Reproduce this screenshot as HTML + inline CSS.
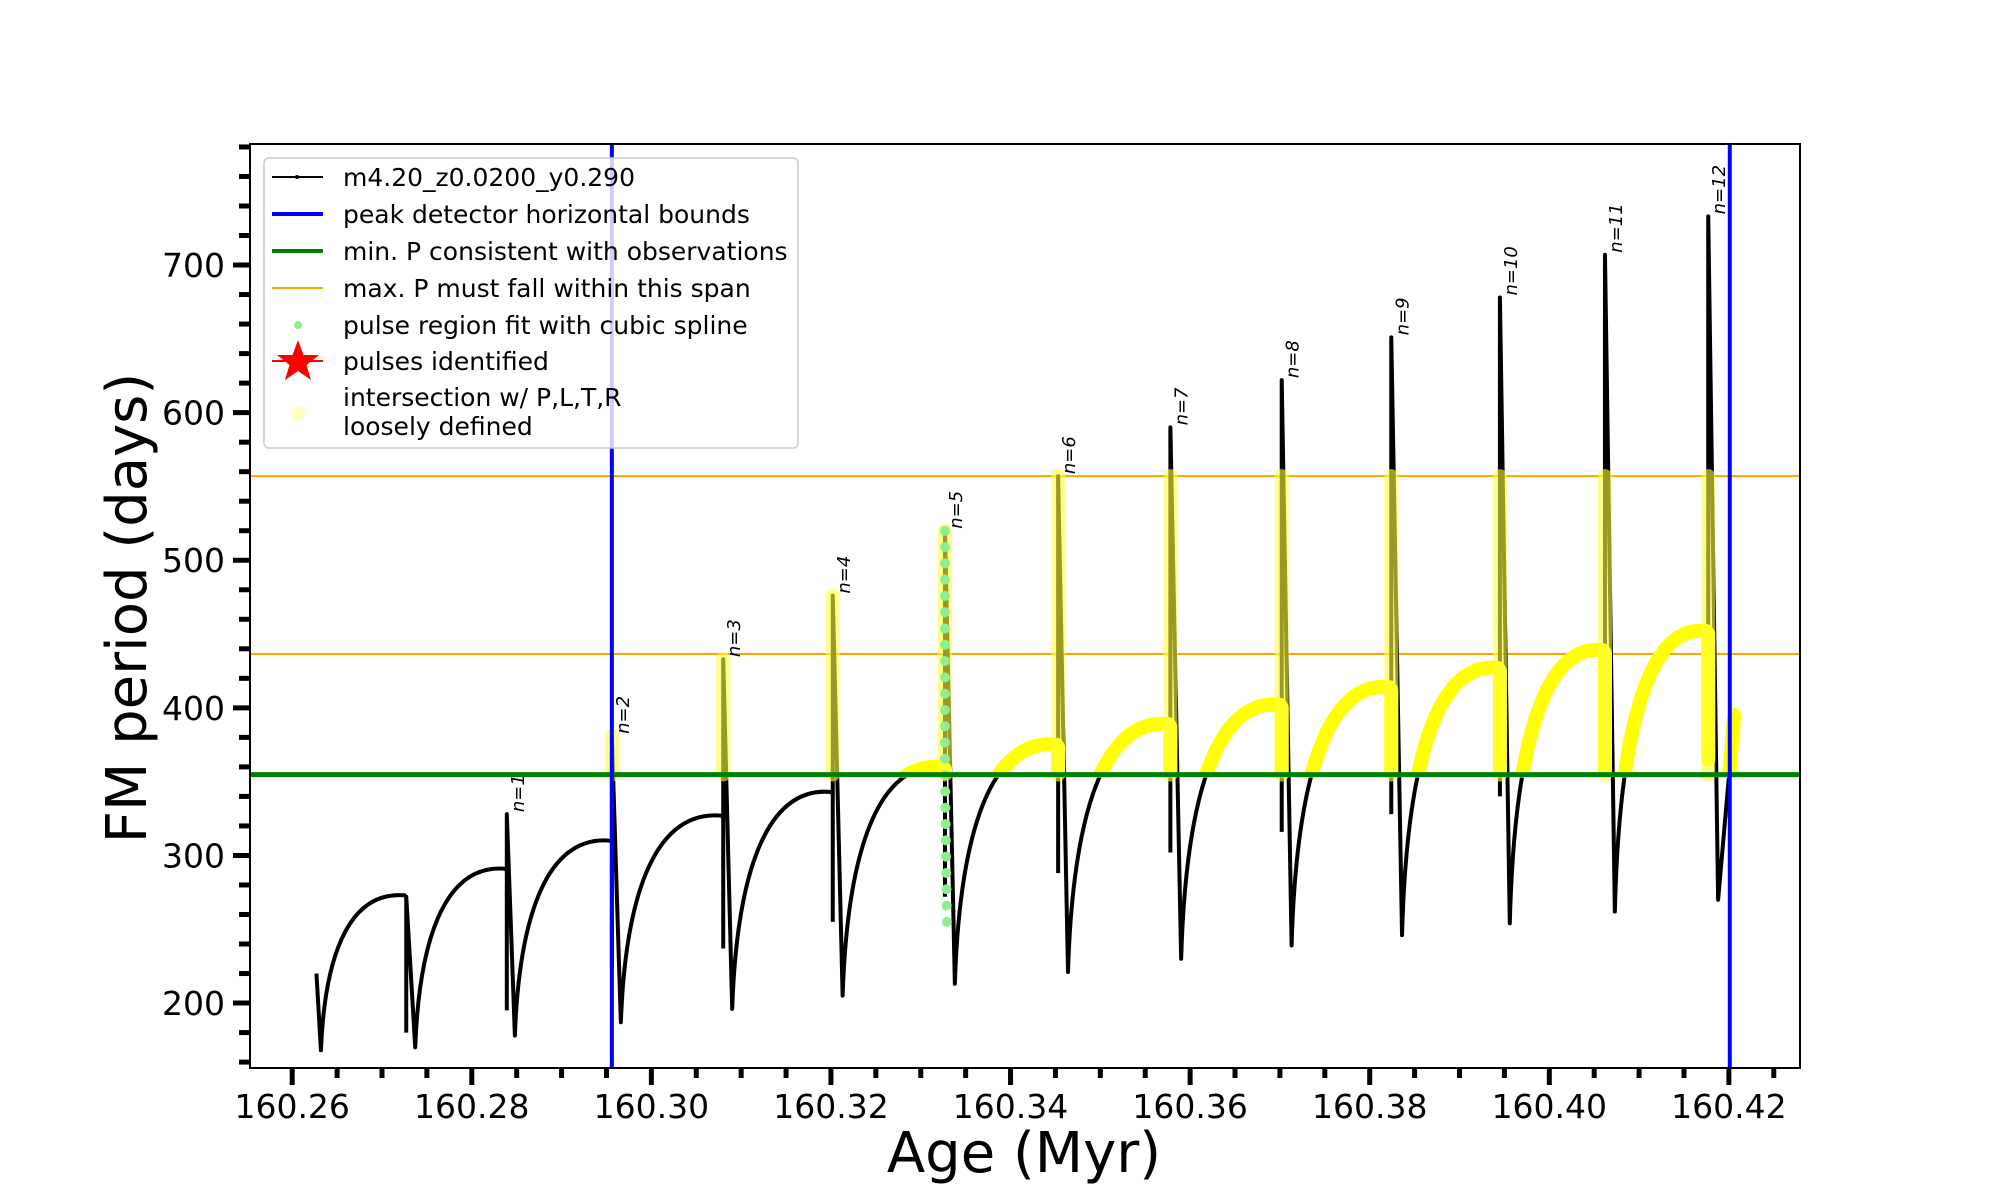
<!DOCTYPE html>
<html><head><meta charset="utf-8">
<style>
html,body{margin:0;padding:0;background:#fff;}
svg{display:block;font-family:"DejaVu Sans","Liberation Sans",sans-serif;}
</style></head>
<body>
<svg id="chart" width="2000" height="1200" viewBox="0 0 2000 1200" xmlns="http://www.w3.org/2000/svg">
<defs>
  <clipPath id="plotClip"><rect x="250" y="144" width="1550" height="924"/></clipPath>
  <clipPath id="yellowClip"><rect id="yellowClipRect" x="0" y="0" width="0" height="0"/></clipPath>
</defs>
<rect x="0" y="0" width="2000" height="1200" fill="#fff"/>
<g id="plot" clip-path="url(#plotClip)"></g>
<rect x="250" y="144" width="1550" height="924" fill="none" stroke="#000" stroke-width="2"/>
<g id="axes"></g>
<text x="1024" y="1172" font-size="56" text-anchor="middle">Age (Myr)</text>
<text x="0" y="0" font-size="56" text-anchor="middle" transform="translate(146,608) rotate(-90)">FM period (days)</text>

<g>
  <rect x="264" y="158" width="534" height="290" rx="5" fill="#fff" fill-opacity="0.8" stroke="#ccc" stroke-width="1.5"/>
  <g>
    <line x1="272" y1="177" x2="323" y2="177" stroke="#000" stroke-width="2"/><circle cx="297" cy="177" r="2" fill="#000"/>
    <text x="343" y="186" font-size="25">m4.20_z0.0200_y0.290</text></g>
  <g>
    <line x1="272" y1="214" x2="323" y2="214" stroke="#0000ff" stroke-width="4"/>
    <text x="343" y="223" font-size="25">peak detector horizontal bounds</text></g>
  <g>
    <line x1="272" y1="251" x2="323" y2="251" stroke="#008000" stroke-width="4"/>
    <text x="343" y="260" font-size="25">min. P consistent with observations</text></g>
  <g>
    <line x1="272" y1="288" x2="323" y2="288" stroke="#ffa500" stroke-width="2"/>
    <text x="343" y="297" font-size="25">max. P must fall within this span</text></g>
  <g>
    <circle cx="298" cy="325" r="4" fill="#90ee90"/>
    <text x="343" y="334" font-size="25">pulse region fit with cubic spline</text></g>
  <g>
    <line x1="272" y1="361" x2="323" y2="361" stroke="#ff0000" stroke-width="2"/>
    <polygon points="298,340 303.5,355 319,355 306.5,365 311,380 298,371 285,380 289.5,365 277,355 292.5,355" fill="#ff0000"/>
    <text x="343" y="370" font-size="25">pulses identified</text></g>
  <g>
    <circle cx="298" cy="413" r="7" fill="#ffffc0"/>
    <text x="343" y="406" font-size="25">intersection w/ P,L,T,R</text>
    <text x="343" y="435" font-size="25">loosely defined</text></g>
</g>
</svg>

<script>
// ---- data ----
const startAge = [160.2627, 160.2632];
const startVal = [220, 168];
const pulseAge = [160.2727,160.2839,160.2956,160.3080,160.3202,160.3327,160.3453,160.3578,160.3702,160.3824,160.3945,160.4062,160.4177];
const plateauVal = [273,291,310,327,343,360,375,389,402,414,427,439,452];
const lowVal = [180,195,224,237,255,272,288,302,316,328,340,355,365];
const peakVal = [272,328,381,433,476,520,557,590,622,651,678,707,733];
const minAge = [160.2737,160.2848,160.2966,160.3090,160.3213,160.3338,160.3464,160.3590,160.3713,160.3836,160.3956,160.4073,160.4188];
const minVal = [170,178,187,196,205,213,221,230,239,246,254,262,270];
const endAge = [160.4206];
const endVal = [395];
const pulseLabels = ["","n=1","n=2","n=3","n=4","n=5","n=6","n=7","n=8","n=9","n=10","n=11","n=12"];
const boundsAge = [160.2956, 160.4201];
const minPVal = [354.8];
const maxPVal = [436.5, 557];
const splinePulse = [5];
const splineLow = [255];
const xTicks = [160.26,160.28,160.30,160.32,160.34,160.36,160.38,160.40,160.42];
const xTickLabels = ["160.26","160.28","160.30","160.32","160.34","160.36","160.38","160.40","160.42"];
const yTicks = [200,300,400,500,600,700];
const yTickLabels = ["200","300","400","500","600","700"];

// ---- axes ----
const X0=160.2553, X1=160.42792, Y0=156, Y1=782;
function xs(a){return 250+(a-X0)/(X1-X0)*1550;}
function ys(v){return 1068-(v-Y0)/(Y1-Y0)*924;}
const NS="http://www.w3.org/2000/svg";
function mk(tag,attrs,parent){const e=document.createElementNS(NS,tag);for(const k in attrs)e.setAttribute(k,attrs[k]);parent.appendChild(e);return e;}
const plot=document.getElementById('plot');
const axes=document.getElementById('axes');

function riseSeg(a0,v0,a1,v1){
  const dt=a1-a0, dv=v1-v0;
  return ` C ${xs(a0+0.04*dt)} ${ys(v0+0.55*dv)} ${xs(a0+0.28*dt)} ${ys(v1+0.03*dv)} ${xs(a1-0.0002)} ${ys(v1)} L ${xs(a1)} ${ys(v1-0.01*dv)}`;
}
let d=`M ${xs(startAge[0])} ${ys(startVal[0])} L ${xs(startAge[1])} ${ys(startVal[1])}`;
d+=riseSeg(startAge[1],startVal[1],pulseAge[0],plateauVal[0]);
let yd='';
for(let i=0;i<pulseAge.length;i++){
  d+=` L ${xs(pulseAge[i])} ${ys(lowVal[i])} M ${xs(pulseAge[i])} ${ys(lowVal[i])} L ${xs(pulseAge[i])} ${ys(peakVal[i])} L ${xs(minAge[i])} ${ys(minVal[i])}`;
  if(i<pulseAge.length-1){
    const r=riseSeg(minAge[i],minVal[i],pulseAge[i+1],plateauVal[i+1]);
    d+=r;
    yd+=` M ${xs(minAge[i])} ${ys(minVal[i])}`+r+` L ${xs(pulseAge[i+1])} ${ys(lowVal[i+1])}`;
  } else {
    d+=` L ${xs(endAge[0])} ${ys(endVal[0])}`;
    yd+=` M ${xs(minAge[i])} ${ys(minVal[i])} L ${xs(endAge[0])} ${ys(endVal[0])}`;
  }
}
maxPVal.forEach((v)=>{
  const l=mk('line',{x1:250,x2:1800,y1:ys(v),y2:ys(v),stroke:'#ffa500','stroke-width':2},plot);
  
  
});
const line=mk('path',{d:d,fill:'none',stroke:'#000','stroke-width':4,'stroke-linejoin':'round'},plot);


const cr=document.getElementById('yellowClipRect');
cr.setAttribute('x',250);cr.setAttribute('y',144);cr.setAttribute('width',1550);cr.setAttribute('height',ys(minPVal[0])-144+3);
const yl=mk('path',{d:yd,fill:'none',stroke:'#ffff00','stroke-width':14,'stroke-linecap':'round','stroke-linejoin':'round','clip-path':'url(#yellowClip)'},plot);


for(let i=2;i<pulseAge.length;i++){
  const top=Math.min(peakVal[i],maxPVal[1]);
  const s=mk('line',{x1:xs(pulseAge[i]),x2:xs(pulseAge[i]),y1:ys(top),y2:ys(minPVal[0]),stroke:'#ffff40','stroke-opacity':0.6,'stroke-width':14,'stroke-linecap':'round'},plot);
  
  
}
splinePulse.forEach((p,j)=>{
  const n=24;
  for(let k=0;k<=n;k++){
    const v=peakVal[p]-(peakVal[p]-splineLow[j])*k/n;
    const a=pulseAge[p]+(v<minPVal[0]?(minPVal[0]-v)/(minPVal[0]-minVal[p])*0.0003:0);
    const c=mk('circle',{cx:xs(a),cy:ys(v),r:5,fill:'#90ee90'},plot);
    
    
  }
});
const g=mk('line',{x1:250,x2:1800,y1:ys(minPVal[0]),y2:ys(minPVal[0]),stroke:'#008000','stroke-width':5},plot);


boundsAge.forEach(a=>{
  const b=mk('line',{x1:xs(a),x2:xs(a),y1:144,y2:1068,stroke:'#0000ff','stroke-width':4},plot);
  
  
});
pulseLabels.forEach((t,i)=>{
  if(!t)return;
  const x=xs(pulseAge[i])+17, y=ys(peakVal[i])-2;
  const tx=mk('text',{x:0,y:0,'font-size':18,'font-style':'italic',transform:`translate(${x},${y}) rotate(-90)`},axes);
  tx.textContent=t;
  
  
});
for(let k=0;k<=34;k++){
  const a=160.255+k*0.005;
  const x=xs(a); if(x<250||x>1800)continue;
  const major=(k-1)%4===0;
  const t=mk('line',{x1:x,x2:x,y1:1068,y2:1068+(major?17:10),stroke:'#000','stroke-width':5},axes);
  
  
}
xTicks.forEach((a,i)=>{
  const t=mk('text',{x:xs(a),y:1118,'font-size':33,'text-anchor':'middle'},axes);
  t.textContent=xTickLabels[i];
  
  
});
for(let v=160;v<=780;v+=20){
  const major=v%100===0;
  const y=ys(v);
  const t=mk('line',{x1:250-(major?17:11),x2:250,y1:y,y2:y,stroke:'#000','stroke-width':5},axes);
  
  
}
yTicks.forEach((v,i)=>{
  const t=mk('text',{x:225,y:ys(v)+12,'font-size':33,'text-anchor':'end'},axes);
  t.textContent=yTickLabels[i];
  
  
});
</script>
</body></html>
